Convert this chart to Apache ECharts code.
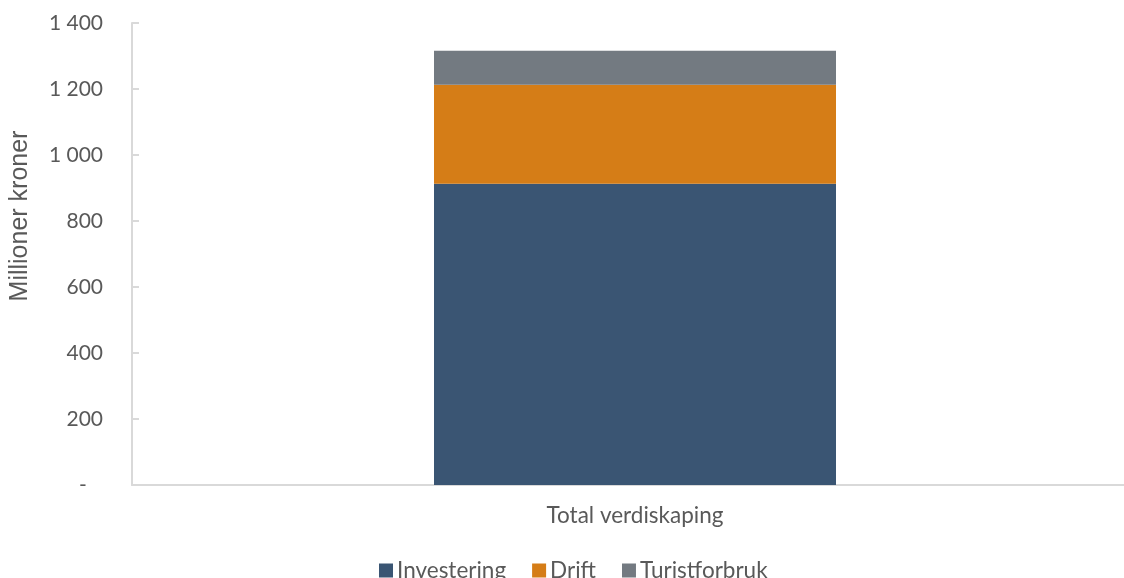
<!DOCTYPE html>
<html>
<head>
<meta charset="utf-8">
<script src="https://cdn.jsdelivr.net/npm/echarts@6/dist/echarts.min.js"></script>
<style>html,body{margin:0;padding:0;background:#fff}#c{width:1124px;height:578px}</style>
</head>
<body>
<div id="c"></div>
<script>
const categories = ["Total verdiskaping"];
const seriesNames = ["Investering", "Drift", "Turistforbruk"];
const investering = [913];
const drift = [300];
const turistforbruk = [103];
const yTicks = [0, 200, 400, 600, 800, 1000, 1200, 1400];

const colors = ["#3A5573", "#D57D17", "#737A81"];
const fontFam = "Lato, 'Open Sans', sans-serif";
const chart = echarts.init(document.getElementById('c'), null, {renderer: 'canvas'});
function fmt(v) {
  if (v === 0) return '-   ';
  return String(v).replace(/\B(?=(\d{3})+(?!\d))/g, ' ');
}
chart.setOption({
  animation: false,
  color: colors,
  grid: {left: 132, width: 1006, top: 23, height: 462, containLabel: false, outerBoundsMode: 'none'},
  legend: {
    data: seriesNames,
    left: 374,
    top: 554,
    itemWidth: 14,
    itemHeight: 14,
    itemGap: 26,
    icon: 'rect',
    textStyle: {fontFamily: fontFam, fontSize: 22.5, color: '#595959', padding: [0, 0, 0, -1]}
  },
  xAxis: {
    type: 'category',
    data: categories,
    axisLine: {lineStyle: {color: '#d9d9d9', width: 2}},
    axisTick: {show: false},
    axisLabel: {fontFamily: fontFam, fontSize: 22.5, color: '#595959', margin: 19}
  },
  yAxis: {
    type: 'value',
    min: yTicks[0],
    max: yTicks[yTicks.length - 1],
    interval: 200,
    name: 'Millioner kroner',
    nameLocation: 'middle',
    nameGap: 99,
    nameTextStyle: {fontFamily: "'Liberation Sans', Arial, sans-serif", fontSize: 25, color: '#595959', padding: [0, 0, 0, 76]},
    axisLine: {show: true, lineStyle: {color: '#d9d9d9', width: 2}},
    axisTick: {show: true, inside: true, length: 7, lineStyle: {color: '#d9d9d9', width: 2}},
    splitLine: {show: false},
    axisLabel: {fontFamily: fontFam, fontSize: 21, color: '#595959', margin: 29, formatter: fmt}
  },
  series: [
    {name: seriesNames[0], type: 'bar', stack: 't', data: investering, barWidth: 402},
    {name: seriesNames[1], type: 'bar', stack: 't', data: drift, barWidth: 402},
    {name: seriesNames[2], type: 'bar', stack: 't', data: turistforbruk, barWidth: 402}
  ]
});
</script>
</body>
</html>
